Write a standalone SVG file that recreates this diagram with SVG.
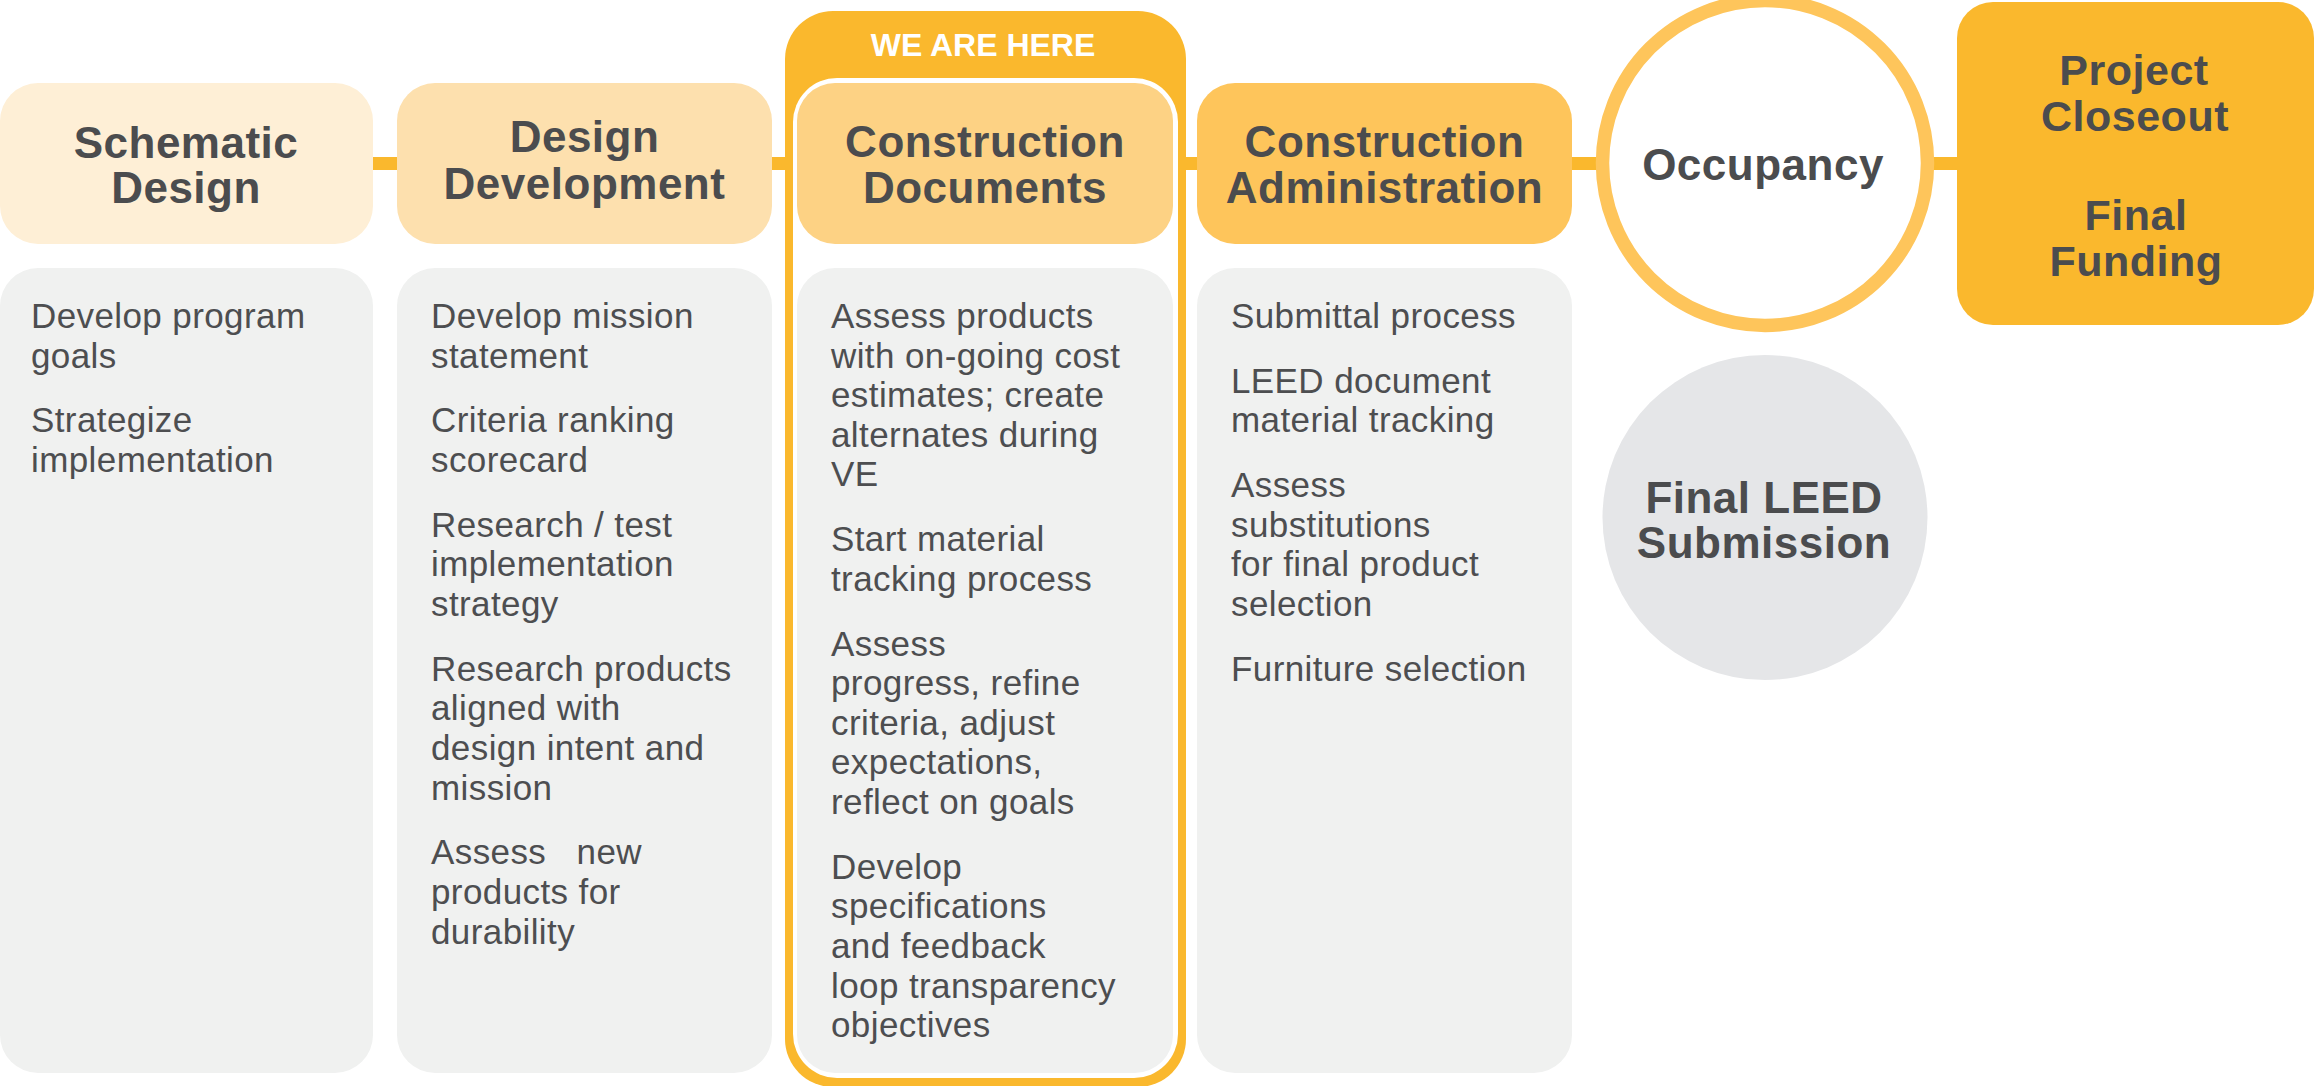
<svg xmlns="http://www.w3.org/2000/svg" width="2315" height="1086" viewBox="0 0 2315 1086">
<style>
.hd{font-family:"Liberation Sans",Arial,sans-serif;font-weight:bold;font-size:44px;fill:#4b4c4e;text-anchor:middle;letter-spacing:0.5px}
.pc{font-size:43px}
.bd{font-family:"Liberation Sans",Arial,sans-serif;font-size:35px;fill:#4d4e50;letter-spacing:0.4px;white-space:pre}
.card{fill:#f0f1f0}
.here{font-family:"Liberation Sans",Arial,sans-serif;font-weight:bold;font-size:32px;fill:#ffffff;text-anchor:middle}
</style>
<rect width="2315" height="1086" fill="#ffffff"/>
<g id="connectors">
<line x1="360" y1="163.5" x2="1970" y2="163.5" stroke="#fab82d" stroke-width="13"/>
</g>
<g id="we-are-here">
<rect x="785" y="11" width="401" height="1076" rx="48" fill="#fab82d"/>
<rect x="793" y="78" width="385" height="1000" rx="44" fill="#ffffff"/>
<text class="here" x="983" y="56">WE ARE HERE</text>
</g>
<g id="schematic-design">
<rect x="0" y="83" width="373" height="161" rx="38" fill="#feefd6"/>
<text class="hd" x="186" y="158">Schematic</text>
<text class="hd" x="186" y="203">Design</text>
</g>
<g id="design-development">
<rect x="397" y="83" width="375" height="161" rx="38" fill="#fde0ae"/>
<text class="hd" x="584.5" y="152">Design</text>
<text class="hd" x="584.5" y="199">Development</text>
</g>
<g id="construction-documents">
<rect x="797" y="83" width="376" height="161" rx="38" fill="#fdd284"/>
<text class="hd" x="985" y="157">Construction</text>
<text class="hd" x="985" y="203">Documents</text>
</g>
<g id="construction-administration">
<rect x="1197" y="83" width="375" height="161" rx="38" fill="#fec55b"/>
<text class="hd" x="1384.5" y="157">Construction</text>
<text class="hd" x="1384.5" y="203">Administration</text>
</g>
<g id="occupancy">
<circle cx="1765" cy="163" r="162.5" fill="#ffffff" stroke="#fec55b" stroke-width="13.5"/>
<text class="hd" x="1763" y="180">Occupancy</text>
</g>
<g id="project-closeout">
<rect x="1957" y="2" width="357" height="323" rx="36" fill="#fab82d"/>
<text class="hd pc" x="2134" y="85">Project</text>
<text class="hd pc" x="2135" y="131">Closeout</text>
<text class="hd pc" x="2136" y="230">Final</text>
<text class="hd pc" x="2136" y="276">Funding</text>
</g>
<g id="final-leed-submission">
<circle cx="1765" cy="517.5" r="162.5" fill="#e5e6e8"/>
<text class="hd" x="1764" y="513">Final LEED</text>
<text class="hd" x="1764" y="558">Submission</text>
</g>
<g id="schematic-tasks">
<rect class="card" x="0" y="268" width="373" height="805" rx="38"/>
<text class="bd" x="31" y="328">Develop program</text>
<text class="bd" x="31" y="367.6">goals</text>
<text class="bd" x="31" y="432.4">Strategize</text>
<text class="bd" x="31" y="472">implementation</text>
</g>
<g id="design-development-tasks">
<rect class="card" x="397" y="268" width="375" height="805" rx="38"/>
<text class="bd" x="431" y="328">Develop mission</text>
<text class="bd" x="431" y="367.6">statement</text>
<text class="bd" x="431" y="432.4">Criteria ranking</text>
<text class="bd" x="431" y="472">scorecard</text>
<text class="bd" x="431" y="536.8">Research / test</text>
<text class="bd" x="431" y="576.4">implementation</text>
<text class="bd" x="431" y="616">strategy</text>
<text class="bd" x="431" y="680.8">Research products</text>
<text class="bd" x="431" y="720.4">aligned with</text>
<text class="bd" x="431" y="760">design intent and</text>
<text class="bd" x="431" y="799.6">mission</text>
<text class="bd" x="431" y="864.4">Assess   new</text>
<text class="bd" x="431" y="904">products for</text>
<text class="bd" x="431" y="943.6">durability</text>
</g>
<g id="construction-documents-tasks">
<rect class="card" x="797" y="268" width="376" height="805" rx="38"/>
<text class="bd" x="831" y="328">Assess products</text>
<text class="bd" x="831" y="367.6">with on-going cost</text>
<text class="bd" x="831" y="407.2">estimates; create</text>
<text class="bd" x="831" y="446.8">alternates during</text>
<text class="bd" x="831" y="486.4">VE</text>
<text class="bd" x="831" y="551.2">Start material</text>
<text class="bd" x="831" y="590.8">tracking process</text>
<text class="bd" x="831" y="655.6">Assess</text>
<text class="bd" x="831" y="695.2">progress, refine</text>
<text class="bd" x="831" y="734.8">criteria, adjust</text>
<text class="bd" x="831" y="774.4">expectations,</text>
<text class="bd" x="831" y="814">reflect on goals</text>
<text class="bd" x="831" y="878.8">Develop</text>
<text class="bd" x="831" y="918.4">specifications</text>
<text class="bd" x="831" y="958">and feedback</text>
<text class="bd" x="831" y="997.6">loop transparency</text>
<text class="bd" x="831" y="1037.2">objectives</text>
</g>
<g id="construction-administration-tasks">
<rect class="card" x="1197" y="268" width="375" height="805" rx="38"/>
<text class="bd" x="1231" y="328">Submittal process</text>
<text class="bd" x="1231" y="392.8">LEED document</text>
<text class="bd" x="1231" y="432.4">material tracking</text>
<text class="bd" x="1231" y="497.2">Assess</text>
<text class="bd" x="1231" y="536.8">substitutions</text>
<text class="bd" x="1231" y="576.4">for final product</text>
<text class="bd" x="1231" y="616">selection</text>
<text class="bd" x="1231" y="680.8">Furniture selection</text>
</g>
</svg>
